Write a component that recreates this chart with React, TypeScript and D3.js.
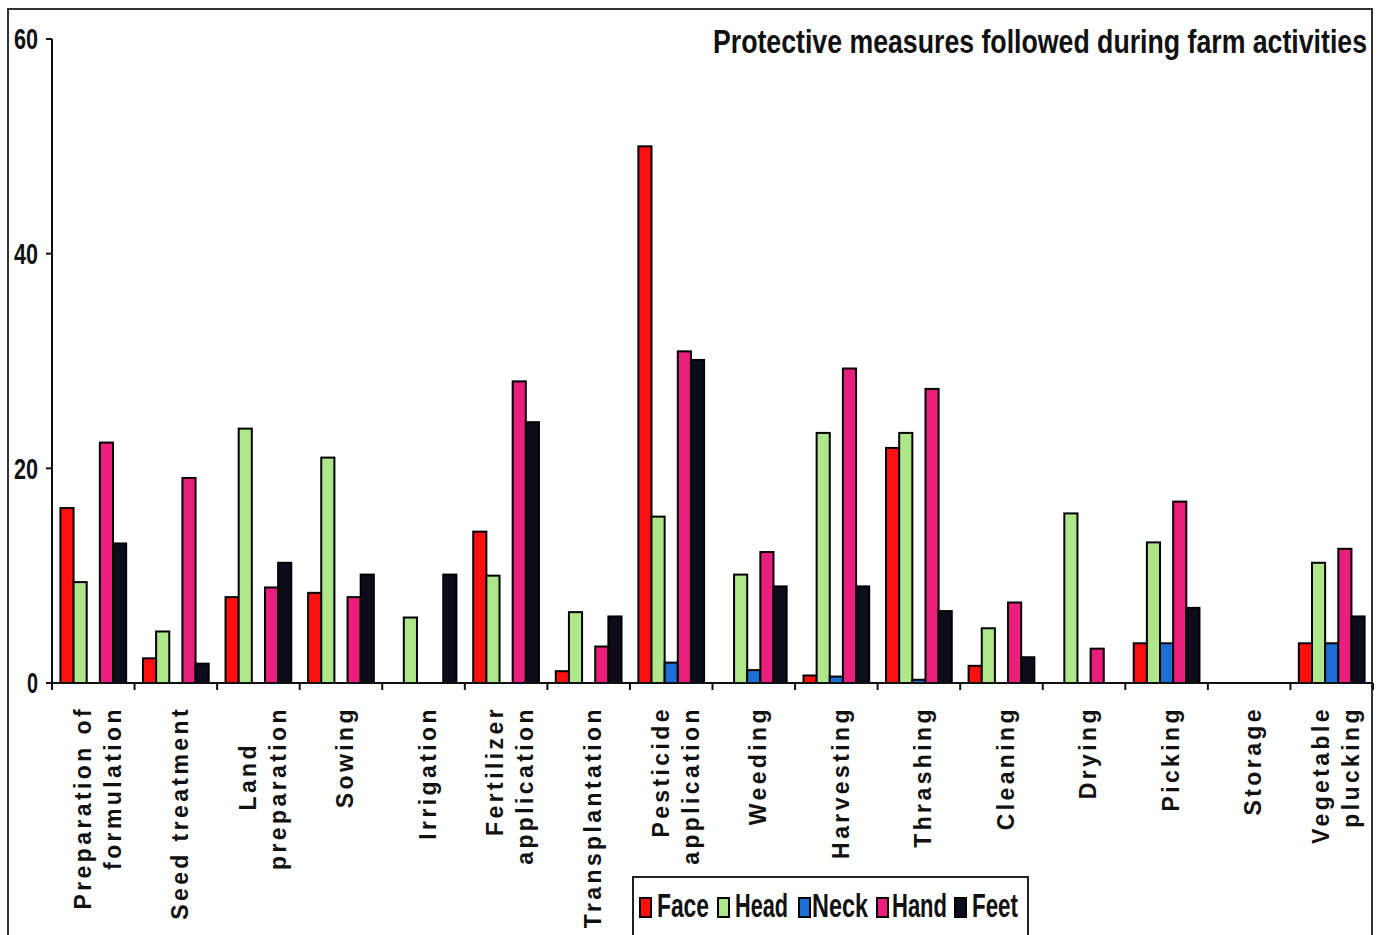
import React from "react";
import * as d3 from "d3";

const categories: string[][] = [
  ["Preparation of", "formulation"],
  ["Seed treatment"],
  ["Land", "preparation"],
  ["Sowing"],
  ["Irrigation"],
  ["Fertilizer", "application"],
  ["Transplantation"],
  ["Pesticide", "application"],
  ["Weeding"],
  ["Harvesting"],
  ["Thrashing"],
  ["Cleaning"],
  ["Drying"],
  ["Picking"],
  ["Storage"],
  ["Vegetable", "plucking"],
];

const seriesNames = ["Face", "Head", "Neck", "Hand", "Feet"];
const seriesColors = ["#ff1010", "#aee68a", "#1d6fd8", "#ea1e7c", "#0c0c1c"];

const face = [16.3, 2.3, 8.0, 8.4, 0, 14.1, 1.1, 50.0, 0, 0.7, 21.9, 1.6, 0, 3.7, 0, 3.7];
const head = [9.4, 4.8, 23.7, 21.0, 6.1, 10.0, 6.6, 15.5, 10.1, 23.3, 23.3, 5.1, 15.8, 13.1, 0, 11.2];
const neck = [0, 0, 0, 0, 0, 0, 0, 1.9, 1.2, 0.6, 0.3, 0, 0, 3.7, 0, 3.7];
const hand = [22.4, 19.1, 8.9, 8.0, 0, 28.1, 3.4, 30.9, 12.2, 29.3, 27.4, 7.5, 3.2, 16.9, 0, 12.5];
const feet = [13.0, 1.8, 11.2, 10.1, 10.1, 24.3, 6.2, 30.1, 9.0, 9.0, 6.7, 2.4, 0, 7.0, 0, 6.2];

const seriesValues = [face, head, neck, hand, feet];
const yTicks = [0, 20, 40, 60];
const title = "Protective measures followed during farm activities";

const W = 1384;
const H = 935;
const left = 52;
const right = 1373;
const top = 39;
const bottom = 683;

const narrow = "'Liberation Sans Narrow', 'Arial Narrow', 'Liberation Sans', Arial, sans-serif";
const labelFont = "'Liberation Sans', Arial, sans-serif";

export default function App() {
  const idx = d3.range(categories.length);
  const x0 = d3.scaleBand<number>().domain(idx).range([left, right]).padding(0);
  const x1 = d3
    .scaleBand<number>()
    .domain(d3.range(seriesNames.length))
    .range([0, x0.bandwidth()])
    .paddingInner(0)
    .paddingOuter(0.64);
  const y = d3.scaleLinear().domain([0, 60]).range([bottom, top]);

  const legendX = [640, 718, 799, 877, 955];
  const legendTextX = [657, 735, 812, 892, 972];
  const legendTextW = [52, 53, 56, 55, 46];

  return (
    <svg width={W} height={H} style={{ position: "absolute", left: 0, top: 0, background: "#fff" }}>
      <rect x={0} y={0} width={W} height={H} fill="#fff" />
      {/* outer frame */}
      <path d={`M8,${H + 5} L8,9 L1372,9 L1372,${H + 5}`} fill="none" stroke="#333" strokeWidth={2} />

      {/* title */}
      <text
        x={1367}
        y={53}
        textAnchor="end"
        fontFamily={narrow}
        fontWeight="bold"
        fontSize={33}
        textLength={654}
        lengthAdjust="spacingAndGlyphs"
        fill="#111"
      >
        {title}
      </text>

      {/* y axis */}
      <line x1={left} x2={left} y1={top} y2={bottom} stroke="#111" strokeWidth={2} />
      {yTicks.map((t) => (
        <g key={t}>
          <line x1={left - 6} x2={left} y1={y(t)} y2={y(t)} stroke="#111" strokeWidth={2} />
          <text
            x={38}
            y={y(t)}
            dy="0.36em"
            textAnchor="end"
            fontFamily={narrow}
            fontWeight="bold"
            fontSize={29}
            textLength={t === 0 ? 11 : 24}
            lengthAdjust="spacingAndGlyphs"
            fill="#111"
          >
            {t}
          </text>
        </g>
      ))}

      {/* bars */}
      {idx.map((ci) => (
        <g key={ci} transform={`translate(${x0(ci)},0)`}>
          {seriesValues.map((vals, si) =>
            vals[ci] > 0 ? (
              <rect
                key={si}
                x={x1(si)!}
                y={y(vals[ci])}
                width={x1.bandwidth()}
                height={bottom - y(vals[ci])}
                fill={seriesColors[si]}
                stroke="#000"
                strokeWidth={2}
              />
            ) : null
          )}
        </g>
      ))}

      {/* x axis */}
      <line x1={left - 6} x2={right} y1={bottom} y2={bottom} stroke="#111" strokeWidth={2} />
      {idx.map((ci) => (
        <line
          key={ci}
          x1={x0(ci)! + x0.bandwidth()}
          x2={x0(ci)! + x0.bandwidth()}
          y1={bottom}
          y2={bottom + 7}
          stroke="#111"
          strokeWidth={2}
        />
      ))}
      <line x1={left} x2={left} y1={bottom} y2={bottom + 7} stroke="#111" strokeWidth={2} />

      {/* category labels */}
      {categories.map((lines, ci) => {
        const cx = x0(ci)! + x0.bandwidth() / 2 + 4;
        const n = lines.length;
        return lines.map((ln, li) => {
          const lx = cx + (li - (n - 1) / 2) * 30;
          const ly = ln === "Land" ? 742 : 706;
          return (
            <text
              key={`${ci}-${li}`}
              transform={`translate(${lx},${ly}) rotate(-90)`}
              dy="0.36em"
              textAnchor="end"
              fontFamily={labelFont}
              fontWeight="bold"
              fontSize={23}
              letterSpacing={3.4}
              fill="#111"
            >
              {ln}
            </text>
          );
        });
      })}

      {/* legend */}
      <rect x={633} y={877} width={395} height={70} fill="#fff" stroke="#222" strokeWidth={2} />
      {seriesNames.map((nm, si) => (
        <g key={nm}>
          <rect
            x={legendX[si]}
            y={898}
            width={11}
            height={19}
            fill={seriesColors[si]}
            stroke="#000"
            strokeWidth={2}
          />
          <text
            x={legendTextX[si]}
            y={917}
            fontFamily={narrow}
            fontWeight="bold"
            fontSize={34}
            textLength={legendTextW[si]}
            lengthAdjust="spacingAndGlyphs"
            fill="#111"
          >
            {nm}
          </text>
        </g>
      ))}
    </svg>
  );
}
